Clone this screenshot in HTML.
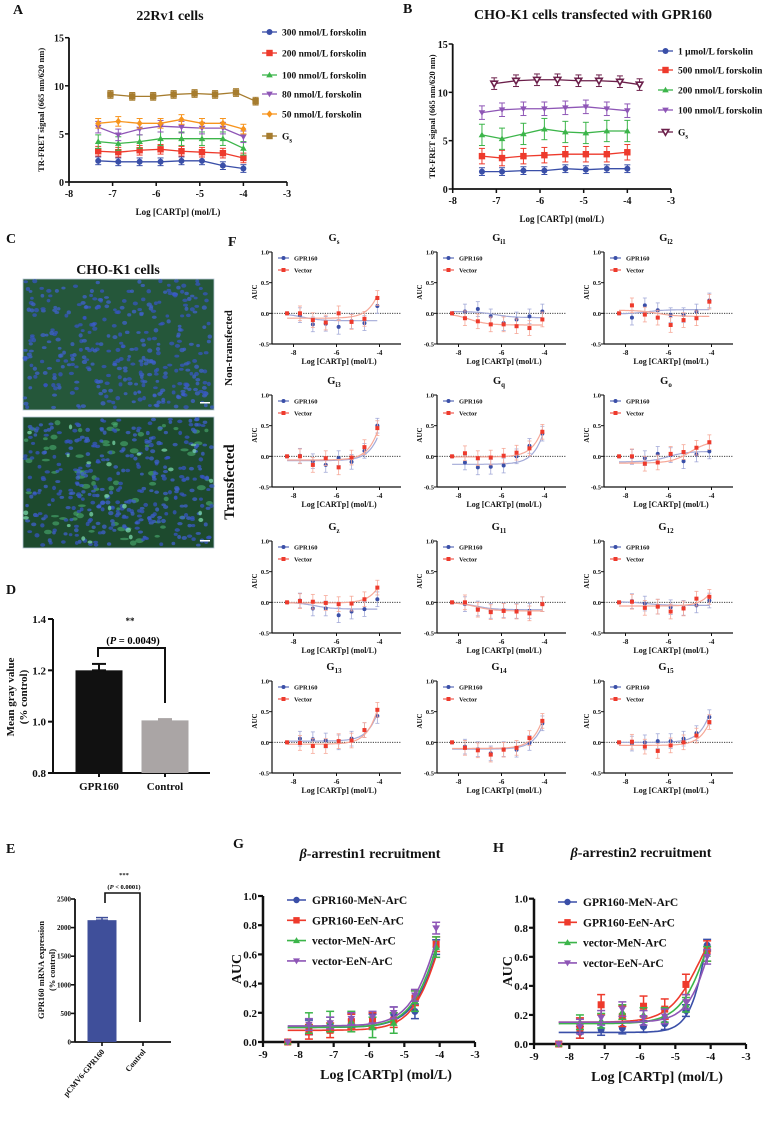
<!DOCTYPE html>
<html><head><meta charset="utf-8"><title>GPR160 figure</title>
<style>
html,body{margin:0;padding:0;background:#fff;}
svg{display:block;font-family:"Liberation Serif","DejaVu Serif",serif;font-weight:bold;}
</style></head>
<body>
<svg id="fig" xmlns="http://www.w3.org/2000/svg" width="776" height="1125" viewBox="0 0 776 1125"></svg>
<script>
// ===== Data arrays =====
// Panel A (22Rv1)
const aX = [-7.33,-6.87,-6.38,-5.9,-5.42,-4.95,-4.47,-4.0];
const aGsX = [-7.05,-6.55,-6.07,-5.6,-5.12,-4.65,-4.17,-3.72];
const aLabels = ["300 nmol/L forskolin","200 nmol/L forskolin","100 nmol/L forskolin","80 nmol/L forskolin","50 nmol/L forskolin"];
const a300 = [2.2,2.1,2.1,2.1,2.2,2.2,1.7,1.4];
const a200 = [3.2,3.1,3.3,3.4,3.2,3.1,3.0,2.5];
const a100 = [4.2,4.0,4.2,4.5,4.5,4.5,4.5,3.5];
const a80 = [5.7,4.9,5.5,5.8,5.7,5.6,5.6,4.7];
const a50 = [6.1,6.3,6.1,6.1,6.5,6.1,6.1,5.5];
const aGs = [9.1,8.9,8.9,9.1,9.2,9.1,9.3,8.4];
const aErr = [0.4,0.5,0.7,0.6,0.5,0.4];
// Panel B (CHO-K1 transfected)
const bLabels = ["1 \u03bcmol/L forskolin","500 nmol/L forskolin","200 nmol/L forskolin","100 nmol/L forskolin"];
const b1u = [1.8,1.8,1.9,1.9,2.1,2.0,2.1,2.1];
const b500 = [3.4,3.2,3.4,3.5,3.6,3.6,3.6,3.8];
const b200 = [5.6,5.2,5.7,6.2,5.9,5.8,6.0,6.0];
const b100 = [7.9,8.2,8.3,8.3,8.4,8.5,8.3,8.1];
const bGs = [10.9,11.2,11.3,11.3,11.2,11.2,11.1,10.8];
const bErr = [0.4,0.8,1.1,0.7,0.6];
const axTicks = [-8,-7,-6,-5,-4,-3];
const abYTicks = [0,5,10,15];
// Panel D
const dCats = ["GPR160","Control"];
const dVals = [1.20,1.005];
const dErr = [0.025,0.005];
const dTicks = [0.8,1.0,1.2,1.4];
// Panel E
const eCats = ["pCMV6-GPR160","Control"];
const eVals = [2130,0];
const eErr = [45,0];
const eTicks = [0,500,1000,1500,2000,2500];
// Panel F
const fX = [-8.3,-7.7,-7.1,-6.5,-5.9,-5.3,-4.7,-4.1];
const fTitles = [["G","s"],["G","i1"],["G","i2"],["G","i3"],["G","q"],["G","o"],["G","z"],["G","11"],["G","12"],["G","13"],["G","14"],["G","15"]];
const fBlue = [
 [0,-0.03,-0.18,-0.17,-0.22,-0.13,-0.16,0.12],
 [0,0.03,0.07,-0.05,-0.16,-0.10,-0.05,0.03],
 [0,-0.07,0.13,0.05,-0.03,-0.03,0.03,0.21],
 [0,0.01,-0.08,-0.14,-0.03,-0.09,0.09,0.50],
 [0,-0.10,-0.18,-0.17,-0.15,0.0,0.17,0.37],
 [0,-0.01,-0.03,0.04,0.02,-0.08,0.03,0.08],
 [0,0.03,-0.10,-0.10,-0.21,-0.15,-0.11,0.05],
 [0,-0.03,-0.10,-0.14,-0.13,-0.14,-0.14,-0.03],
 [0,0.02,-0.02,-0.07,-0.08,-0.09,-0.05,0.03],
 [0,0.06,0.05,0.03,0.0,0.06,0.20,0.43],
 [0,-0.07,-0.11,-0.18,-0.11,-0.12,-0.01,0.31],
 [0,-0.02,0.0,0.02,0.02,0.06,0.15,0.41]];
const fRed = [
 [0,0.0,-0.11,-0.15,0.0,-0.14,-0.09,0.25],
 [0,-0.08,-0.13,-0.18,-0.18,-0.21,-0.24,-0.10],
 [0,0.13,-0.02,-0.07,-0.19,-0.11,-0.08,0.19],
 [0,0.0,-0.14,-0.03,-0.18,-0.02,0.15,0.46],
 [0,0.05,-0.03,-0.02,0.01,0.06,0.13,0.40],
 [0,0.0,-0.12,-0.10,0.04,0.07,0.14,0.23],
 [0,0.02,0.01,-0.01,-0.03,-0.02,0.05,0.24],
 [0,0.0,-0.12,-0.16,-0.14,-0.15,-0.18,-0.03],
 [0,0.01,-0.09,-0.07,-0.15,-0.10,0.06,0.09],
 [0,-0.01,-0.06,-0.06,0.02,0.03,0.20,0.53],
 [0,-0.09,-0.13,-0.20,-0.12,-0.09,0.07,0.35],
 [0,0.01,-0.07,-0.14,-0.05,0.0,0.11,0.33]];
// fit parameters [bottom, top, logEC50]
const fBlueFit = [[0,-0.12,-7.6],[0.03,-0.07,-6.3],[-0.01,0.06,-7.0],[-0.07,5,-3.0],[-0.13,5,-3.1],[-0.09,0.08,-6.0],[0,-0.11,-7.0],[0,-0.12,-7.2],[0.01,-0.05,-7.0],[0.02,5,-3.1],[-0.11,5,-3.0],[0,5,-3.1]];
const fRedFit = [[-0.08,5,-3.0],[0,-0.19,-7.5],[0.05,-0.05,-6.5],[-0.06,5,-3.1],[-0.01,5,-3.1],[-0.11,0.25,-5.0],[-0.01,5,-2.8],[0,-0.14,-7.2],[-0.06,5,-2.7],[-0.03,5,-3.2],[-0.10,5,-3.1],[-0.05,5,-3.0]];
const fErr = [0.12,0.12];
const fYTicks = [-0.5,0,0.5,1.0];
const fXTicks = [-8,-6,-4];
// Panels G, H
const ghX = [-8.3,-7.7,-7.1,-6.5,-5.9,-5.3,-4.7,-4.1];
const ghLabels = ["GPR160-MeN-ArC","GPR160-EeN-ArC","vector-MeN-ArC","vector-EeN-ArC"];
const gBlue = [0,0.10,0.12,0.15,0.14,0.19,0.21,0.65];
const gRed = [0,0.07,0.08,0.14,0.15,0.15,0.30,0.67];
const gGreen = [0,0.13,0.14,0.14,0.10,0.13,0.28,0.65];
const gPurple = [0,0.12,0.13,0.16,0.17,0.20,0.32,0.78];
const hBlue = [0,0.08,0.10,0.11,0.12,0.14,0.23,0.68];
const hRed = [0,0.11,0.27,0.19,0.26,0.24,0.41,0.64];
const hGreen = [0,0.15,0.16,0.22,0.20,0.20,0.27,0.62];
const hPurple = [0,0.12,0.18,0.24,0.18,0.19,0.29,0.60];
const gFit = [[0.10,1.5,-3.85,1],[0.08,1.5,-3.85,1],[0.10,1.5,-3.9,1],[0.11,1.5,-3.95,1]];
const hFit = [[0.08,2,-3.9,1.5],[0.15,1.0,-4.3,1],[0.14,1.5,-3.9,1],[0.15,1.5,-3.85,1.2]];
const gErr = [0.05,0.05,0.07,0.04];
const hErr = [0.04,0.07,0.05,0.05];
const ghYTicks = [0,0.2,0.4,0.6,0.8,1.0];
const ghXTicks = [-9,-8,-7,-6,-5,-4,-3];

// ===== helpers =====
const NS='http://www.w3.org/2000/svg';
const svg=document.getElementById('fig');
function el(tag,attrs,parent,text){
  const e=document.createElementNS(NS,tag);
  for(const k in attrs) e.setAttribute(k,attrs[k]);
  if(text!=null) e.textContent=text;
  (parent||svg).appendChild(e);
  return e;
}
function nm(e,name,inter){
  
  
  return e;
}
function grp(name){ const g=el('g',{}); nm(g,name); return g; }
function txt(g,x,y,s,size,anchor,extra){
  const a=Object.assign({x:x,y:y,'font-size':size,'text-anchor':anchor||'middle',fill:'#111'},extra||{});
  return el('text',a,g,s);
}
function marker(g,type,x,y,r,color,open){
  let m;
  const f=open?'#fff':color;
  if(type==='circle') m=el('circle',{cx:x,cy:y,r:r,fill:f,stroke:color,'stroke-width':open?1.5:0},g);
  else if(type==='square') m=el('rect',{x:x-r,y:y-r,width:2*r,height:2*r,fill:f,stroke:color,'stroke-width':open?1.5:0},g);
  else if(type==='tri') m=el('polygon',{points:`${x},${y-r*1.1} ${x-r*1.1},${y+r*0.8} ${x+r*1.1},${y+r*0.8}`,fill:f,stroke:color,'stroke-width':open?1.5:0},g);
  else if(type==='itri') m=el('polygon',{points:`${x},${y+r*1.1} ${x-r*1.1},${y-r*0.8} ${x+r*1.1},${y-r*0.8}`,fill:f,stroke:color,'stroke-width':open?1.6:0},g);
  else if(type==='diamond') m=el('polygon',{points:`${x},${y-r*1.2} ${x-r},${y} ${x},${y+r*1.2} ${x+r},${y}`,fill:f},g);
  return m;
}
function errbar(g,x,y1,y2,w,color,sw){
  el('line',{x1:x,y1:y1,x2:x,y2:y2,stroke:color,'stroke-width':sw},g);
  el('line',{x1:x-w,y1:y1,x2:x+w,y2:y1,stroke:color,'stroke-width':sw},g);
  el('line',{x1:x-w,y1:y2,x2:x+w,y2:y2,stroke:color,'stroke-width':sw},g);
}
function hill(p,x){ const h=p.length>3?p[3]:1; return p[0]+(p[1]-p[0])/(1+Math.pow(10,(p[2]-x)*h)); }

// panel letters
[['A',13,14],['B',403,13],['C',6,243],['D',6,594],['E',6,853],['F',228,246],['G',233,848],['H',493,852]].forEach(function(L){
  const t=txt(svg,L[1],L[2],L[0],14,'start');
  
  
});

// ===== Panels A & B =====
function scatterPanel(cfg){
  const g=grp(cfg.name);
  const xs=v=>cfg.px0+(v-cfg.dx0)*(cfg.px1-cfg.px0)/(cfg.dx1-cfg.dx0);
  const ys=v=>cfg.py0-(v-cfg.dy0)*(cfg.py0-cfg.py1)/(cfg.dy1-cfg.dy0);
  const t=txt(g,cfg.titleX,cfg.titleY,cfg.title,14); nm(t,'chart-title');
  const ax=el('g',{},g); nm(ax,'axes');
  el('line',{x1:cfg.px0,y1:ys(cfg.dy1),x2:cfg.px0,y2:cfg.py0,stroke:'#111','stroke-width':1.8},ax);
  el('line',{x1:cfg.px0,y1:cfg.py0,x2:cfg.px1,y2:cfg.py0,stroke:'#111','stroke-width':1.8},ax);
  axTicks.forEach(v=>{
    el('line',{x1:xs(v),y1:cfg.py0,x2:xs(v),y2:cfg.py0+4,stroke:'#111','stroke-width':1.5},ax);
    const l=txt(ax,xs(v),cfg.py0+15,String(v),10); nm(l,'x-tick-label');
  });
  abYTicks.forEach(v=>{
    el('line',{x1:cfg.px0-4,y1:ys(v),x2:cfg.px0,y2:ys(v),stroke:'#111','stroke-width':1.5},ax);
    const l=txt(ax,cfg.px0-5,ys(v)+4,String(v),10,'end'); nm(l,'y-tick-label');
  });
  const xl=txt(g,(cfg.px0+cfg.px1)/2,cfg.py0+33,'Log [CARTp]  (mol/L)',9); nm(xl,'x-axis-title');
  const yl=txt(g,0,0,'TR-FRET signal (665 nm/620 nm)',8.5,'middle',{transform:`translate(${cfg.ylx},${(cfg.py0+ys(cfg.dy1))/2}) rotate(-90)`}); nm(yl,'y-axis-title');
  cfg.series.forEach((s,i)=>{
    const sg=el('g',{},g); nm(sg,'series-'+s.key);
    const xv=s.x;
    let pts=xv.map((x,j)=>xs(x)+','+ys(s.v[j])).join(' ');
    el('polyline',{points:pts,fill:'none',stroke:s.c,'stroke-width':1.3},sg);
    xv.forEach((x,j)=>{
      errbar(sg,xs(x),ys(s.v[j]+s.e),ys(s.v[j]-s.e),3,s.c,1);
      const m=marker(sg,s.m,xs(x),ys(s.v[j]),s.m==='square'?3.2:3,s.c,s.open);
      
      
    });
    const lg=el('g',{},g); nm(lg,'legend-entry');
    const ly=cfg.legY[i];
    el('line',{x1:cfg.legX,y1:ly,x2:cfg.legX+15,y2:ly,stroke:s.c,'stroke-width':1.3},lg);
    marker(lg,s.m,cfg.legX+7.5,ly,s.m==='square'?3.2:3,s.c,s.open);
    if(s.label==='Gs'){
      const tt=txt(lg,cfg.legX+20,ly+3.5,'G',9.5,'start');
      el('tspan',{'font-size':7,dy:3},tt,'s');
    } else txt(lg,cfg.legX+20,ly+3.5,s.label,9.5,'start');
  });
}
scatterPanel({name:'panel-a-chart',title:'22Rv1 cells',titleX:170,titleY:20,px0:69,px1:287,dx0:-8,dx1:-3,py0:182,py1:37.7,dy0:0,dy1:15,ylx:44,
  legX:262,legY:[32,53,75,94,114,136],
  series:[
   {key:'300nm',x:aX,v:a300,e:aErr[0],c:'#3a4fa8',m:'circle',label:aLabels[0]},
   {key:'200nm',x:aX,v:a200,e:aErr[1],c:'#ee3a2c',m:'square',label:aLabels[1]},
   {key:'100nm',x:aX,v:a100,e:aErr[2],c:'#3cb54a',m:'tri',label:aLabels[2]},
   {key:'80nm',x:aX,v:a80,e:aErr[3],c:'#8e56b6',m:'itri',label:aLabels[3]},
   {key:'50nm',x:aX,v:a50,e:aErr[4],c:'#f7941d',m:'diamond',label:aLabels[4]},
   {key:'gs',x:aGsX,v:aGs,e:aErr[5],c:'#a67c2e',m:'square',label:'Gs'}]});
scatterPanel({name:'panel-b-chart',title:'CHO-K1 cells transfected with GPR160',titleX:593,titleY:19,px0:452.7,px1:671,dx0:-8,dx1:-3,py0:189,py1:44,dy0:0,dy1:15,ylx:435,
  legX:658,legY:[51,70,90,110,132],
  series:[
   {key:'1um',x:aX,v:b1u,e:bErr[0],c:'#3a4fa8',m:'circle',label:bLabels[0]},
   {key:'500nm',x:aX,v:b500,e:bErr[1],c:'#ee3a2c',m:'square',label:bLabels[1]},
   {key:'200nm',x:aX,v:b200,e:bErr[2],c:'#3cb54a',m:'tri',label:bLabels[2]},
   {key:'100nm',x:aX,v:b100,e:bErr[3],c:'#8e56b6',m:'itri',label:bLabels[3]},
   {key:'gs',x:aGsX,v:bGs,e:bErr[4],c:'#6b1f4a',m:'itri',open:true,label:'Gs'}]});

// ===== Panel C: microscopy images (decorative) =====
(function(){
  const g=grp('panel-c-images');
  const t=txt(g,118,274,'CHO-K1 cells',14); nm(t,'panel-c-title');
  let seed=7;
  function rnd(){ seed=(seed*16807)%2147483647; return seed/2147483647; }
  [[279,'non-transfected-image',false],[417,'transfected-image',true]].forEach(function(im){
    const ig=el('g',{},g); nm(ig,im[1]);
    el('rect',{x:23,y:im[0],width:191,height:131,fill:im[2]?'#1d4a2e':'#25573a'},ig);
    el('rect',{x:23,y:im[0],width:191,height:131,fill:'none',stroke:'#b8c8d8','stroke-width':0.8},ig);
    if(im[2]){
      for(let i=0;i<70;i++){
        const cx=25+rnd()*187, cy=im[0]+2+rnd()*127;
        el('ellipse',{cx:cx,cy:cy,rx:2+rnd()*2.5,ry:1.2+rnd()*1.5,fill:'#4fb878',opacity:0.55},ig);
      }
    }
    for(let i=0;i<360;i++){
      const cx=25+rnd()*187, cy=im[0]+2+rnd()*127;
      el('ellipse',{cx:cx,cy:cy,rx:1.8+rnd()*0.9,ry:1.4+rnd()*0.8,fill:rnd()<0.5?'#3555c0':'#3f62cc',opacity:0.75},ig);
    }
    if(im[2]){
      for(let i=0;i<25;i++){
        const cx=25+rnd()*187, cy=im[0]+2+rnd()*127;
        el('ellipse',{cx:cx,cy:cy,rx:1.5+rnd()*1.5,ry:1.2+rnd()*1.2,fill:'#7fe0b0',opacity:0.7},ig);
      }
    }
    el('rect',{x:200,y:im[0]+123,width:10,height:1.5,fill:'#fff'},ig);
  });
  const n=txt(g,0,0,'Non-transfected',11,'middle',{transform:'translate(232,348) rotate(-90)'}); nm(n,'row-label-non-transfected');
  const tr=txt(g,0,0,'Transfected',15,'middle',{transform:'translate(234,482) rotate(-90)'}); nm(tr,'row-label-transfected');
})();

// ===== Panel D =====
(function(){
  const g=grp('panel-d-chart');
  const ys=v=>773-(v-0.8)*(154/0.6);
  const ax=el('g',{},g); nm(ax,'axes');
  el('line',{x1:53,y1:ys(1.4),x2:53,y2:773,stroke:'#111','stroke-width':2},ax);
  el('line',{x1:53,y1:773,x2:210,y2:773,stroke:'#111','stroke-width':2},ax);
  dTicks.forEach(v=>{
    el('line',{x1:48,y1:ys(v),x2:53,y2:ys(v),stroke:'#111','stroke-width':2},ax);
    const l=txt(ax,46,ys(v)+4,v.toFixed(1),11,'end'); nm(l,'y-tick-label');
  });
  const cx=[99,165], cols=['#111111','#aaa5a5'];
  dCats.forEach((c,i)=>{
    const b=el('rect',{x:cx[i]-23.5,y:ys(dVals[i]),width:47,height:773-ys(dVals[i]),fill:cols[i]},g);
    nm(b,'bar-'+c.toLowerCase());
    errbar(g,cx[i],ys(dVals[i]+dErr[i]),ys(dVals[i]),7,cols[i],2);
    el('line',{x1:cx[i],y1:773,x2:cx[i],y2:777,stroke:'#111','stroke-width':2},ax);
    const l=txt(g,cx[i],790,c,11); nm(l,'x-tick-label');
  });
  const br=el('path',{d:'M98,657 V648 H165 V703',fill:'none',stroke:'#111','stroke-width':2},g); nm(br,'significance-bracket');
  const s1=txt(g,130,624,'**',9); nm(s1,'significance-stars');
  const s2=el('text',{x:133,y:644,'font-size':10.5,'text-anchor':'middle'},g); nm(s2,'p-value');
  el('tspan',{},s2,'(');el('tspan',{'font-style':'italic'},s2,'P');el('tspan',{},s2,' = 0.0049)');
  const y1=txt(g,0,0,'Mean gray value',11,'middle',{transform:'translate(14,697) rotate(-90)'}); nm(y1,'y-axis-title');
  const y2=txt(g,0,0,'(% control)',11,'middle',{transform:'translate(27,697) rotate(-90)'}); nm(y2,'y-axis-title-units');
})();

// ===== Panel E =====
(function(){
  const g=grp('panel-e-chart');
  const ys=v=>1042-v*143/2500;
  const ax=el('g',{},g); nm(ax,'axes');
  el('line',{x1:75,y1:ys(2500),x2:75,y2:1042,stroke:'#111','stroke-width':1.8},ax);
  el('line',{x1:75,y1:1042,x2:171,y2:1042,stroke:'#111','stroke-width':1.8},ax);
  eTicks.forEach(v=>{
    el('line',{x1:71,y1:ys(v),x2:75,y2:ys(v),stroke:'#111','stroke-width':1.6},ax);
    const l=txt(ax,71,ys(v)+2.5,String(v),7,'end'); nm(l,'y-tick-label');
  });
  const cx=[102,143];
  eCats.forEach((c,i)=>{
    if(eVals[i]>0){
      const b=el('rect',{x:cx[i]-14.5,y:ys(eVals[i]),width:29,height:1042-ys(eVals[i]),fill:'#3f4f9a'},g);
      nm(b,'bar-'+c.toLowerCase());
      errbar(g,cx[i],ys(eVals[i]+eErr[i]),ys(eVals[i]),6,'#3f4f9a',1.5);
    }
    el('line',{x1:cx[i],y1:1042,x2:cx[i],y2:1046,stroke:'#111','stroke-width':1.6},ax);
    const l=txt(g,0,0,c,8,'end',{transform:`translate(${cx[i]+3},${1052}) rotate(-50)`}); nm(l,'x-tick-label');
  });
  const br=el('path',{d:'M105,903 V893 H140 V1022',fill:'none',stroke:'#111','stroke-width':1.6},g); nm(br,'significance-bracket');
  const s1=txt(g,124,877,'***',6.5); nm(s1,'significance-stars');
  const s2=el('text',{x:124,y:889,'font-size':6.5,'text-anchor':'middle'},g); nm(s2,'p-value');
  el('tspan',{},s2,'(');el('tspan',{'font-style':'italic'},s2,'P');el('tspan',{},s2,' < 0.0001)');
  const y1=txt(g,0,0,'GPR160 mRNA expression',8.5,'middle',{transform:'translate(44,970) rotate(-90)'}); nm(y1,'y-axis-title');
  const y2=txt(g,0,0,'(% control)',8.5,'middle',{transform:'translate(55,970) rotate(-90)'}); nm(y2,'y-axis-title-units');
})();

// ===== Panel F =====
(function(){
  const colX=[272,437,604], rowY=[252,395,541,681];
  const W=129,H=92;
  fTitles.forEach((tt,k)=>{
    const px=colX[k%3], py=rowY[Math.floor(k/3)];
    const g=grp('gprotein-plot-'+tt[0].toLowerCase()+tt[1]);
    const xs=v=>px+(v+9)*W/6;
    const ys=v=>py+(1-v)*H/1.5;
    const t=el('text',{x:px+62,y:py-11,'font-size':10.5,'text-anchor':'middle',fill:'#111'},g,tt[0]);
    el('tspan',{'font-size':7,dy:3},t,tt[1]);
    nm(t,'plot-title');
    const ax=el('g',{},g); nm(ax,'axes');
    el('line',{x1:px,y1:py,x2:px,y2:py+H,stroke:'#111','stroke-width':1.2},ax);
    el('line',{x1:px,y1:py+H,x2:px+W,y2:py+H,stroke:'#111','stroke-width':1.2},ax);
    fYTicks.forEach(v=>{
      el('line',{x1:px-3,y1:ys(v),x2:px,y2:ys(v),stroke:'#111','stroke-width':1},ax);
      const l=txt(ax,px-3,ys(v)+2.5,v.toFixed(1),6.5,'end'); nm(l,'y-tick-label');
    });
    fXTicks.forEach(v=>{
      el('line',{x1:xs(v),y1:py+H,x2:xs(v),y2:py+H+3,stroke:'#111','stroke-width':1},ax);
      const l=txt(ax,xs(v),py+H+11,String(v),7,'middle'); nm(l,'x-tick-label');
    });
    const xl=txt(g,px+67,py+H+20,'Log [CARTp]  (mol/L)',8); nm(xl,'x-axis-title');
    const yl=txt(g,0,0,'AUC',7,'middle',{transform:`translate(${px-15},${py+40}) rotate(-90)`}); nm(yl,'y-axis-title');
    el('line',{x1:px,y1:ys(0),x2:px+W,y2:ys(0),stroke:'#222','stroke-width':0.9,'stroke-dasharray':'1.2,1.2'},g);
    [[fBlue[k],fBlueFit[k],'#3a4fa8','#a3aad8','circle','gpr160',fErr[0]],[fRed[k],fRedFit[k],'#ee3a2c','#f6a898','square','vector',fErr[1]]].forEach(s=>{
      const sg=el('g',{},g); nm(sg,'series-'+s[5]);
      let d='';
      for(let x=fX[0];x<=fX[fX.length-1]+1e-9;x+=0.05) d+=(d?'L':'M')+xs(x).toFixed(1)+','+ys(hill(s[1],x)).toFixed(1);
      el('path',{d:d,fill:'none',stroke:s[3],'stroke-width':1.2},sg);
      fX.forEach((x,j)=>{
        if(j>0) errbar(sg,xs(x),ys(s[0][j]+s[6]),ys(s[0][j]-s[6]),2,s[3],0.8);
        const m=marker(sg,s[4],xs(x),ys(s[0][j]),2,s[2]);
        
        
      });
    });
    [['GPR160','#3a4fa8','circle',6],['Vector','#ee3a2c','square',18]].forEach(L=>{
      const lg=el('g',{},g); nm(lg,'legend-entry');
      el('line',{x1:px+6,y1:py+L[3],x2:px+17,y2:py+L[3],stroke:L[1],'stroke-width':1},lg);
      marker(lg,L[2],px+11.5,py+L[3],2,L[1]);
      txt(lg,px+22,py+L[3]+2.5,L[0],6.5,'start');
    });
  });
})();

// ===== Panels G & H =====
function arrPanel(cfg){
  const g=grp(cfg.name);
  const xs=v=>cfg.px0+(v+9)*(cfg.px1-cfg.px0)/6;
  const ys=v=>cfg.py0-v*(cfg.py0-cfg.py1);
  const t=el('text',{x:cfg.tx,y:cfg.ty,'font-size':14,'text-anchor':'middle',fill:'#111'},g);
  el('tspan',{'font-style':'italic'},t,'\u03b2');
  el('tspan',{},t,cfg.title);
  nm(t,'chart-title');
  const ax=el('g',{},g); nm(ax,'axes');
  el('line',{x1:cfg.px0,y1:cfg.py1,x2:cfg.px0,y2:cfg.py0,stroke:'#111','stroke-width':2.5},ax);
  el('line',{x1:cfg.px0,y1:cfg.py0,x2:cfg.px1,y2:cfg.py0,stroke:'#111','stroke-width':2.5},ax);
  ghYTicks.forEach(v=>{
    el('line',{x1:cfg.px0-5,y1:ys(v),x2:cfg.px0,y2:ys(v),stroke:'#111','stroke-width':2.2},ax);
    const l=txt(ax,cfg.px0-6,ys(v)+4,v.toFixed(1),11,'end'); nm(l,'y-tick-label');
  });
  ghXTicks.forEach(v=>{
    el('line',{x1:xs(v),y1:cfg.py0,x2:xs(v),y2:cfg.py0+5,stroke:'#111','stroke-width':2.2},ax);
    const l=txt(ax,xs(v),cfg.py0+16,String(v),11); nm(l,'x-tick-label');
  });
  const xl=txt(g,(cfg.px0+cfg.px1)/2+17,cfg.py0+37,'Log [CARTp]  (mol/L)',14); nm(xl,'x-axis-title');
  const yl=txt(g,0,0,'AUC',14,'middle',{transform:`translate(${cfg.px0-22},${ys(0.5)}) rotate(-90)`}); nm(yl,'y-axis-title');
  const cols=['#3a4fa8','#ee3a2c','#3cb54a','#8e56b6'], mk=['circle','square','tri','itri'], keys=['gpr160-men','gpr160-een','vector-men','vector-een'];
  cfg.data.forEach((vals,i)=>{
    const sg=el('g',{},g); nm(sg,'series-'+keys[i]);
    let d='';
    for(let x=ghX[0];x<=ghX[ghX.length-1]+1e-9;x+=0.05) d+=(d?'L':'M')+xs(x).toFixed(1)+','+ys(hill(cfg.fit[i],x)).toFixed(1);
    el('path',{d:d,fill:'none',stroke:cols[i],'stroke-width':1.6},sg);
    ghX.forEach((x,j)=>{
      if(j>0) errbar(sg,xs(x),ys(vals[j]+cfg.err[i]),ys(vals[j]-cfg.err[i]),4,cols[i],1.5);
      const m=marker(sg,mk[i],xs(x),ys(vals[j]),3.5,cols[i]);
      
      
    });
  });
  ghLabels.forEach((L,i)=>{
    const lg=el('g',{},g); nm(lg,'legend-entry');
    const ly=cfg.legY+i*20.3;
    el('line',{x1:cfg.legX,y1:ly,x2:cfg.legX+19,y2:ly,stroke:cols[i],'stroke-width':1.6},lg);
    marker(lg,mk[i],cfg.legX+9.5,ly,3.2,cols[i]);
    txt(lg,cfg.legX+25,ly+4,L,11.5,'start');
  });
}
arrPanel({name:'panel-g-chart',title:'-arrestin1 recruitment',tx:370,ty:858,px0:263,px1:475,py0:1042,py1:896,legX:287,legY:900,data:[gBlue,gRed,gGreen,gPurple],fit:gFit,err:gErr});
arrPanel({name:'panel-h-chart',title:'-arrestin2 recruitment',tx:641,ty:857,px0:534,px1:746,py0:1044,py1:898.7,legX:558,legY:902,data:[hBlue,hRed,hGreen,hPurple],fit:hFit,err:hErr});
</script>
</body></html>
